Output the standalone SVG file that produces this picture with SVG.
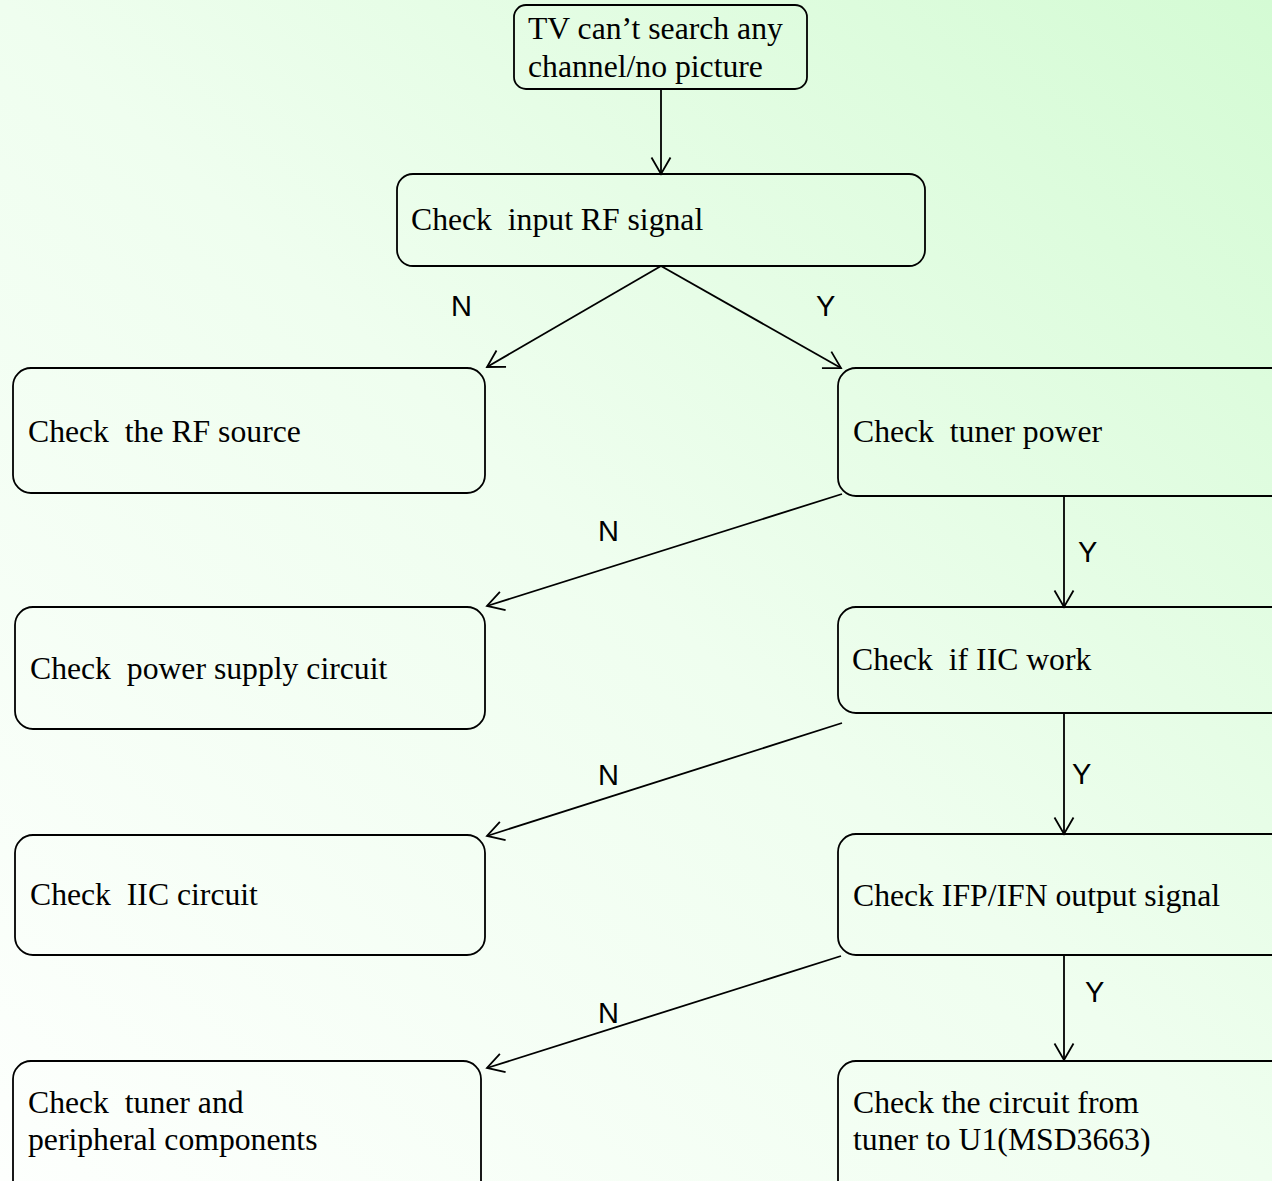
<svg xmlns="http://www.w3.org/2000/svg" width="1272" height="1181" viewBox="0 0 1272 1181">
<defs>
<linearGradient id="bg" x1="1" y1="0" x2="0" y2="1">
<stop offset="0" stop-color="#d4fbd4"/>
<stop offset="0.5" stop-color="#effeef"/>
<stop offset="1" stop-color="#fdfffd"/>
</linearGradient>
<marker id="arr" markerUnits="userSpaceOnUse" viewBox="-20 -12 22 24" markerWidth="22" markerHeight="24" refX="0" refY="0" orient="auto">
<path d="M-16.5,-9.5 L0,0 L-16.5,9.5" fill="none" stroke="#000" stroke-width="1.8"/>
</marker>
<style>
.box{fill:none;stroke:#000;stroke-width:1.8}
.t{font-family:"Liberation Serif","Times New Roman",serif;font-size:31.7px;fill:#000;white-space:pre}
.lbl{font-family:"Liberation Sans",Arial,sans-serif;font-size:29px;fill:#000}
.c{fill:none;stroke:#000;stroke-width:1.8;marker-end:url(#arr)}
</style>
</defs>
<rect width="1272" height="1181" fill="url(#bg)"/>
<g id="connectors">
<line class="c" x1="661" y1="89" x2="661" y2="174"/>
<line class="c" x1="661" y1="266" x2="487" y2="367"/>
<line class="c" x1="661" y1="266" x2="841" y2="368"/>
<line class="c" x1="842" y1="494" x2="487" y2="606"/>
<line class="c" x1="1064" y1="496" x2="1064" y2="607"/>
<line class="c" x1="842" y1="723" x2="487" y2="836"/>
<line class="c" x1="1064" y1="713" x2="1064" y2="834"/>
<line class="c" x1="841" y1="956" x2="487" y2="1068"/>
<line class="c" x1="1064" y1="955" x2="1064" y2="1060"/>
<text class="lbl" x="451" y="316">N</text>
<text class="lbl" x="816" y="316">Y</text>
<text class="lbl" x="598" y="541">N</text>
<text class="lbl" x="1078" y="562">Y</text>
<text class="lbl" x="598" y="785">N</text>
<text class="lbl" x="1072" y="784">Y</text>
<text class="lbl" x="598" y="1023">N</text>
<text class="lbl" x="1085" y="1002">Y</text>
</g>
<g id="start">
<rect class="box" x="514" y="5" width="293" height="84" rx="12"/>
<text class="t" x="528" y="39">TV can’t search any</text>
<text class="t" x="528" y="77">channel/no picture</text>
</g>
<g id="rf-signal">
<rect class="box" x="397" y="174" width="528" height="92" rx="16"/>
<text class="t" x="411" y="230">Check  input RF signal</text>
</g>
<g id="rf-source">
<rect class="box" x="13" y="368" width="472" height="125" rx="18"/>
<text class="t" x="28" y="442">Check  the RF source</text>
</g>
<g id="tuner-power">
<rect class="box" x="838" y="368" width="460" height="128" rx="18"/>
<text class="t" x="853" y="442">Check  tuner power</text>
</g>
<g id="power-supply">
<rect class="box" x="15" y="607" width="470" height="122" rx="18"/>
<text class="t" x="30" y="679">Check  power supply circuit</text>
</g>
<g id="iic-work">
<rect class="box" x="838" y="607" width="460" height="106" rx="18"/>
<text class="t" x="852" y="670">Check  if IIC work</text>
</g>
<g id="iic-circuit">
<rect class="box" x="15" y="835" width="470" height="120" rx="18"/>
<text class="t" x="30" y="905">Check  IIC circuit</text>
</g>
<g id="ifp-ifn">
<rect class="box" x="838" y="834" width="460" height="121" rx="18"/>
<text class="t" x="853" y="906">Check IFP/IFN output signal</text>
</g>
<g id="tuner-peripheral">
<rect class="box" x="13" y="1061" width="468" height="140" rx="18"/>
<text class="t" x="28" y="1113">Check  tuner and</text>
<text class="t" x="28" y="1150">peripheral components</text>
</g>
<g id="tuner-u1">
<rect class="box" x="838" y="1061" width="460" height="140" rx="18"/>
<text class="t" x="853" y="1113">Check the circuit from</text>
<text class="t" x="853" y="1150">tuner to U1(MSD3663)</text>
</g>
</svg>
